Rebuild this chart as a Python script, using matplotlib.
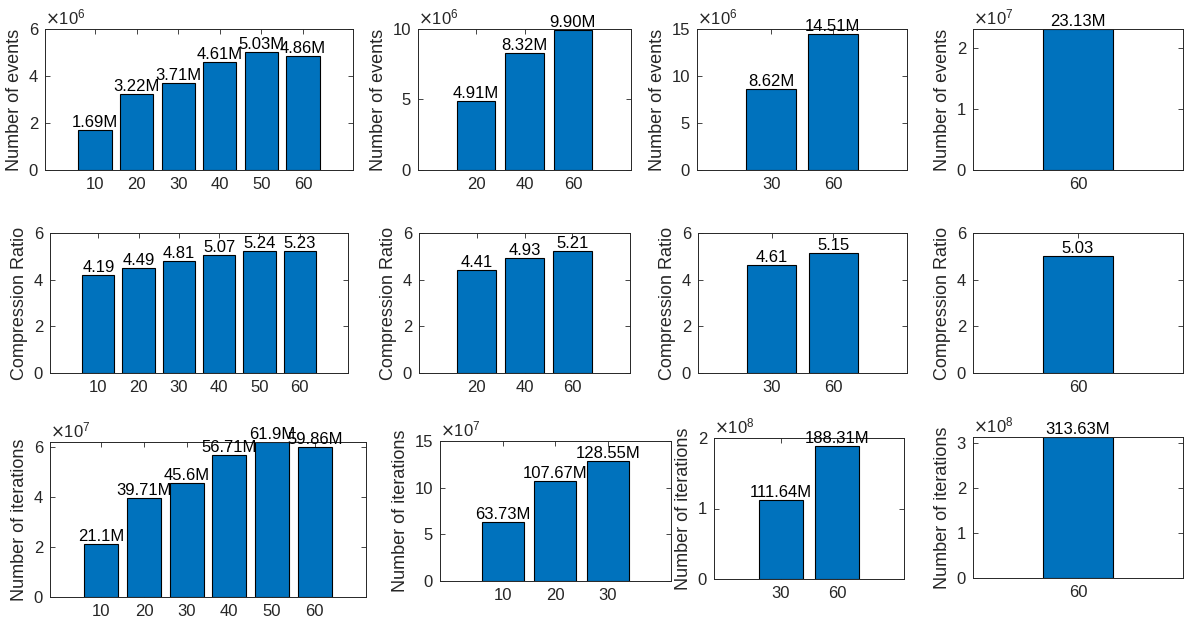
import matplotlib
matplotlib.use("Agg")
import matplotlib.pyplot as plt

plt.rcParams["font.family"] = ["Liberation Sans", "DejaVu Sans"]

BAR_COLOR = "#0072BD"
AX_COLOR = "#262626"

# ---- data (row by row, left to right) ----
events_x = [[10, 20, 30, 40, 50, 60], [20, 40, 60], [30, 60], [60]]
events_y = [[1.69e6, 3.22e6, 3.71e6, 4.61e6, 5.03e6, 4.86e6],
            [4.91e6, 8.32e6, 9.90e6],
            [8.62e6, 14.51e6],
            [23.13e6]]
events_lbl = [["1.69M", "3.22M", "3.71M", "4.61M", "5.03M", "4.86M"],
              ["4.91M", "8.32M", "9.90M"],
              ["8.62M", "14.51M"],
              ["23.13M"]]

ratio_x = [[10, 20, 30, 40, 50, 60], [20, 40, 60], [30, 60], [60]]
ratio_y = [[4.19, 4.49, 4.81, 5.07, 5.24, 5.23],
           [4.41, 4.93, 5.21],
           [4.61, 5.15],
           [5.03]]
ratio_lbl = [["4.19", "4.49", "4.81", "5.07", "5.24", "5.23"],
             ["4.41", "4.93", "5.21"],
             ["4.61", "5.15"],
             ["5.03"]]

iter_x = [[10, 20, 30, 40, 50, 60], [10, 20, 30], [30, 60], [60]]
iter_y = [[21.1e6, 39.71e6, 45.6e6, 56.71e6, 61.9e6, 59.86e6],
          [63.73e6, 107.67e6, 128.55e6],
          [111.64e6, 188.31e6],
          [313.63e6]]
iter_lbl = [["21.1M", "39.71M", "45.6M", "56.71M", "61.9M", "59.86M"],
            ["63.73M", "107.67M", "128.55M"],
            ["111.64M", "188.31M"],
            ["313.63M"]]

# axis settings: (ylim top, exponent, tick step)
events_ax = [(6e6, 6, 2), (10e6, 6, 5), (15e6, 6, 5), (23.13e6, 7, 1)]
ratio_ax = [(6, 0, 2), (6, 0, 2), (6, 0, 2), (6, 0, 2)]
iter_ax = [(61.9e6, 7, 2), (15e7, 7, 5), (2e8, 8, 1), (3.1363e8, 8, 1)]

# axes boxes in pixels: (left, right, top, bottom)
W, H = 1184, 622
boxes = [
    [(45, 353, 29, 170), (418, 631, 29, 170), (697, 907, 29, 170), (973, 1183, 29, 170)],
    [(50, 348, 233, 373), (419, 630, 233, 373), (698, 907, 233, 373), (973, 1183, 233, 373)],
    [(50, 366, 442, 597), (440, 671, 441, 581), (714, 904, 438, 579), (973, 1183, 437, 578)],
]

fig = plt.figure(figsize=(W / 100, H / 100), dpi=100)

rows = [
    (events_x, events_y, events_lbl, events_ax, "Number of events"),
    (ratio_x, ratio_y, ratio_lbl, ratio_ax, "Compression Ratio"),
    (iter_x, iter_y, iter_lbl, iter_ax, "Number of iterations"),
]

FS = 12
for r, (xs, ys, lbls, axcfg, ylabel) in enumerate(rows):
    for c in range(4):
        l, rr, t, b = boxes[r][c]
        ax = fig.add_axes([l / W, 1 - b / H, (rr - l) / W, (b - t) / H])
        n = len(xs[c])
        pos = list(range(n))
        top, exp, step = axcfg[c]
        scale = 10 ** exp
        ax.bar(pos, ys[c], width=0.8, color=BAR_COLOR, edgecolor="black", linewidth=0.8, zorder=2)
        for p, v, s in zip(pos, ys[c], lbls[c]):
            ax.text(p, v, s, ha="center", va="bottom", fontsize=FS, color="black", clip_on=False)
        ax.set_xlim(-1.2, n - 1 + 1.2)
        ax.set_ylim(0, top)
        ax.set_xticks(pos)
        ax.set_xticklabels([str(x) for x in xs[c]])
        ticks = []
        k = 0
        while k * step * scale <= top * 1.0001:
            ticks.append(k * step * scale)
            k += 1
        ax.set_yticks(ticks)
        ax.set_yticklabels([f"{k * step:g}" for k in range(len(ticks))])
        if exp:
            ax.text(0.0, 1.01, r"$\times\mathregular{10^{%d}}$" % exp, transform=ax.transAxes,
                    ha="left", va="bottom", fontsize=FS, color=AX_COLOR)
        ax.set_ylabel(ylabel, fontsize=13, color=AX_COLOR, labelpad=4)
        ax.tick_params(direction="in", top=True, right=True, length=3.5, width=0.6,
                       labelsize=FS, colors=AX_COLOR, pad=5)
        for sp in ax.spines.values():
            sp.set_color(AX_COLOR)
            sp.set_linewidth(0.7)

fig.savefig("out.png", dpi=100)
